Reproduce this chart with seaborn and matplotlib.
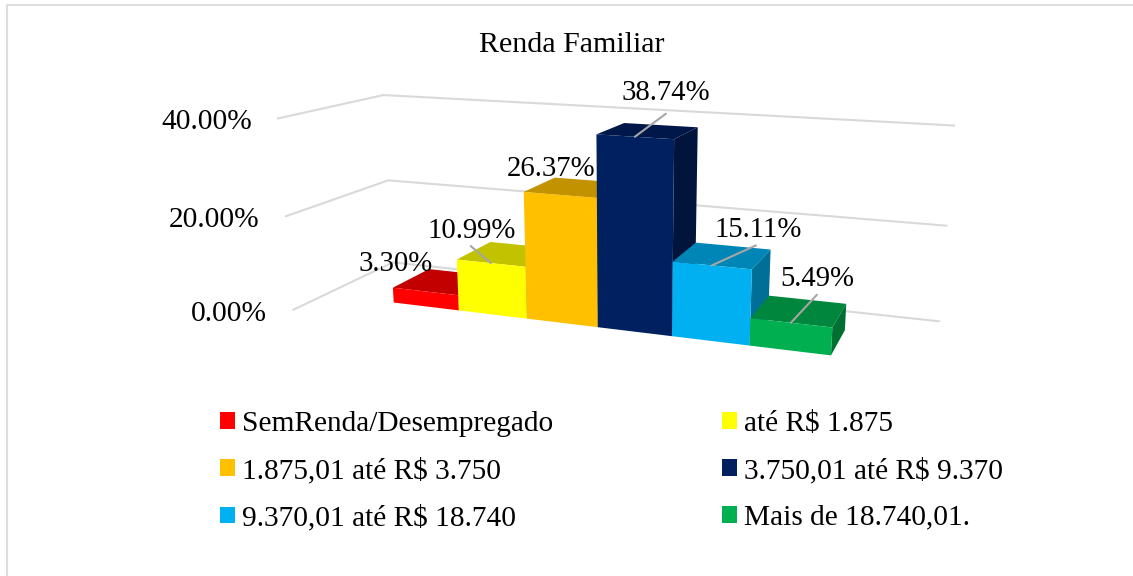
import numpy as np
import pandas as pd
import seaborn as sns
import matplotlib
matplotlib.use('Agg')
import matplotlib.pyplot as plt
from matplotlib.colors import to_rgb
from matplotlib.patches import Patch, Polygon
from matplotlib.transforms import Transform

# Data
categories = ['SemRenda/Desempregado', 'até R$ 1.875', '1.875,01 até R$ 3.750',
              '3.750,01 até R$ 9.370', '9.370,01 até R$ 18.740', 'Mais de 18.740,01.']
values = [3.30, 10.99, 26.37, 38.74, 15.11, 5.49]
bar_colors = ['#FF0000', '#FFFF00', '#FFC000', '#002060', '#00B0F0', '#00B050']
axis_ticks = [0, 20, 40]
title = 'Renda Familiar'

# Camera of the 3D chart: (category, depth, value) -> figure pixels
camera = np.array([[56.148434, 61.251235, -0.686824, 425.945128],
                   [1.427995, -3.145395, -4.863101, 306.423913],
                   [-0.021044, 0.057923, -0.001097, 1.0]])

# Box of the walls in the same coordinates
wall_x = (-1.59, 6.60)
wall_depth = (-0.76, 1.80)

# Label placement relative to the front top of each bar, in pixels
label_offset = [(-30, -27), (-19, -32), (-9, -26), (31, -44), (46, -35), (26, -44)]
leader_offset = [None, (-20, -17), None, (31, -23), (44, -20), (26, -28)]


def project(x, depth, value):
    pts = camera @ np.array([x, depth, value, 1.0])
    return pts[0] / pts[2], pts[1] / pts[2]


# Puts the flat seaborn bars on the front plane of the 3D box
class FrontPlane(Transform):
    input_dims = 2
    output_dims = 2

    def transform_non_affine(self, values):
        values = np.asarray(values)
        return np.array([project(x, 0, v) for x, v in values])


def shade(color, factor):
    return tuple(c * factor for c in to_rgb(color))


sns.set_theme(style='white')
plt.rcParams['font.family'] = ['Liberation Serif', 'DejaVu Serif']
text_color = '#000000'
grid_color = '#D9D9D9'
font_px = 21.2

fig = plt.figure(figsize=(11.33, 5.76), dpi=100)
ax = fig.add_axes([0, 0, 1, 1])

df = pd.DataFrame({'category': categories, 'value': values})
sns.barplot(data=df, x='category', y='value', hue='category', palette=bar_colors,
            dodge=False, width=1, saturation=1, legend=False, ax=ax)

# axes become the pixel canvas, the bars go through the camera
ax.set_xlim(0, 1133)
ax.set_ylim(576, 0)
ax.set_axis_off()

front = FrontPlane() + ax.transData
for i, bar in enumerate(ax.patches):
    x0, x1 = bar.get_x(), bar.get_x() + bar.get_width()
    v = bar.get_height()
    bar.set_transform(front)
    bar.set_linewidth(0)
    bar.set_zorder(3 + 3 * i + 2)
    top = [project(x0, 0, v), project(x1, 0, v), project(x1, 1, v), project(x0, 1, v)]
    side = [project(x1, 0, 0), project(x1, 0, v), project(x1, 1, v), project(x1, 1, 0)]
    ax.add_patch(Polygon(top, closed=True, fc=shade(bar_colors[i], 0.76), lw=0, zorder=3 + 3 * i))
    ax.add_patch(Polygon(side, closed=True, fc=shade(bar_colors[i], 0.63), lw=0, zorder=3 + 3 * i + 1))

# Walls and tick labels
for tick in axis_ticks:
    pts = [project(wall_x[0], wall_depth[0], tick), project(wall_x[0], wall_depth[1], tick),
           project(wall_x[1], wall_depth[1], tick)]
    ax.plot([p[0] for p in pts], [p[1] for p in pts], color=grid_color, lw=1.5, zorder=1)
    ax.text(pts[0][0] - 26, pts[0][1] + 4, f'{tick:.2f}%', ha='right', va='center',
            fontsize=font_px, color=text_color)

# Value labels and leader lines
for i, v in enumerate(values):
    ax_x, ax_y = project(i, 0, v)
    if leader_offset[i] is not None:
        ax.plot([ax_x, ax_x + leader_offset[i][0]], [ax_y, ax_y + leader_offset[i][1]],
                color='#A6A6A6', lw=1.5, zorder=40)
    ax.text(ax_x + label_offset[i][0], ax_y + label_offset[i][1], f'{v:.2f}%', ha='center',
            va='center', fontsize=20.7, color=text_color, zorder=41)

ax.text(572, 45, title, ha='center', va='center', fontsize=21.6, color=text_color)

# Legend
order = [0, 2, 4, 1, 3, 5]
handles = [Patch(fc=bar_colors[i], lw=0, label=categories[i]) for i in order]
ax.legend(handles=handles, ncol=2, frameon=False, loc='upper left',
          bbox_to_anchor=(220, 411), bbox_transform=ax.transData, borderaxespad=0, borderpad=0,
          fontsize=font_px, handlelength=0.5, handleheight=0.5, handletextpad=0.25,
          columnspacing=5.73, labelspacing=0.7, labelcolor=text_color)

# Chart frame, cut by the picture on the right and at the bottom
ax.plot([6.5, 6.5, 1133], [576, 5, 5], color='#DDDDDD', lw=1.5, zorder=0)

fig.savefig('out.png', dpi=100)
